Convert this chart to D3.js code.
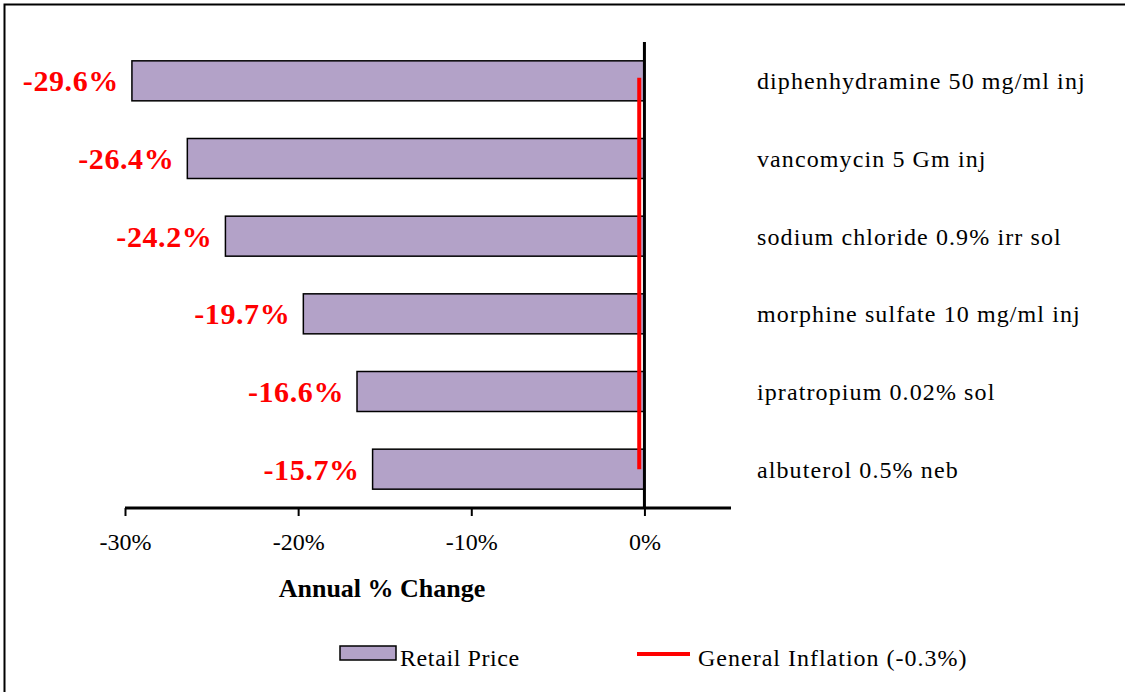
<!DOCTYPE html>
<html>
<head>
<meta charset="utf-8">
<script src="https://cdn.jsdelivr.net/npm/d3@7"></script>
<style>
  body { margin: 0; background: #fff; }
  text { font-family: "Liberation Serif", "Times New Roman", serif; }
</style>
</head>
<body>
<script>

// DATA
// =============================================================================

const drugs = [
  "diphenhydramine 50 mg/ml inj",
  "vancomycin 5 Gm inj",
  "sodium chloride 0.9% irr sol",
  "morphine sulfate 10 mg/ml inj",
  "ipratropium 0.02% sol",
  "albuterol 0.5% neb"
];
const retailChange = [-29.6, -26.4, -24.2, -19.7, -16.6, -15.7];
const inflation = -0.3;
const xTicks = [-30, -20, -10, 0];

// CONFIG VARS
// =============================================================================

const width = 1125;
const height = 692;
const plot = { left: 125, right: 731, top: 42, bottom: 508 };
const barFill = "#b3a2c8";

// SCALES
// =============================================================================

const xScale = d3.scaleLinear()
    .domain([-30, 5])
    .range([plot.left, plot.right]);

const yScale = d3.scaleBand()
    .domain(drugs)
    .range([plot.top, plot.bottom])
    .paddingInner(0.485)
    .paddingOuter(0.2425);

// INITIALIZE THE SVG
// =============================================================================

const svg = d3.select("body")
    .append("svg")
    .attr("width", width)
    .attr("height", height);

// outer frame, only the top and left edges are in view
svg.append("rect")
    .attr("x", 4.5)
    .attr("y", 4.5)
    .attr("width", width + 20)
    .attr("height", height + 20)
    .attr("fill", "none")
    .attr("stroke", "#000")
    .attr("stroke-width", 2);

// BARS
// =============================================================================

svg.selectAll("rect.bar")
    .data(drugs)
    .enter()
    .append("rect")
    .attr("class", "bar")
    .attr("x", (d, i) => xScale(retailChange[i]))
    .attr("y", d => yScale(d))
    .attr("width", (d, i) => xScale(0) - xScale(retailChange[i]))
    .attr("height", yScale.bandwidth())
    .attr("fill", barFill)
    .attr("stroke", "#000")
    .attr("stroke-width", 1.5);

// value labels on the left of each bar
svg.selectAll("text.value")
    .data(drugs)
    .enter()
    .append("text")
    .attr("class", "value")
    .attr("x", (d, i) => xScale(retailChange[i]) - 13)
    .attr("y", d => yScale(d) + yScale.bandwidth() / 2)
    .attr("dy", "0.35em")
    .attr("text-anchor", "end")
    .attr("fill", "#ff0000")
    .attr("font-size", 30)
    .attr("font-weight", "bold")
    .attr("letter-spacing", 0.6)
    .text((d, i) => retailChange[i].toFixed(1) + "%");

// drug names on the right
svg.selectAll("text.name")
    .data(drugs)
    .enter()
    .append("text")
    .attr("class", "name")
    .attr("x", 757)
    .attr("y", d => yScale(d) + yScale.bandwidth() / 2)
    .attr("dy", "0.35em")
    .attr("font-size", 24)
    .attr("letter-spacing", 1.1)
    .attr("fill", "#000")
    .text(d => d);

// AXES
// =============================================================================

const xAxis = svg.append("g")
    .attr("transform", `translate(0,${plot.bottom})`)
    .call(d3.axisBottom(xScale)
        .tickValues(xTicks)
        .tickSize(8)
        .tickPadding(17)
        .tickFormat(d => d + "%"));

xAxis.select(".domain")
    .attr("d", `M${plot.left},0H${plot.right}`)
    .attr("stroke-width", 3);
xAxis.selectAll(".tick line").attr("stroke-width", 2);
xAxis.selectAll(".tick text")
    .attr("font-size", 24)
    .attr("font-family", "Liberation Serif")
    .attr("fill", "#000");

// zero line
svg.append("line")
    .attr("x1", xScale(0))
    .attr("x2", xScale(0))
    .attr("y1", plot.top)
    .attr("y2", plot.bottom)
    .attr("stroke", "#000")
    .attr("stroke-width", 3);

// general inflation line
svg.append("line")
    .attr("x1", xScale(inflation))
    .attr("x2", xScale(inflation))
    .attr("y1", yScale(drugs[0]) + yScale.bandwidth() / 2 - 3)
    .attr("y2", yScale(drugs[drugs.length - 1]) + yScale.bandwidth() / 2)
    .attr("stroke", "#ff0000")
    .attr("stroke-width", 4);

svg.append("text")
    .attr("x", 382)
    .attr("y", 597)
    .attr("text-anchor", "middle")
    .attr("font-size", 26)
    .attr("font-weight", "bold")
    .text("Annual % Change");

// LEGEND
// =============================================================================

const legend = svg.append("g");

legend.append("rect")
    .attr("x", 340)
    .attr("y", 646)
    .attr("width", 56)
    .attr("height", 14)
    .attr("fill", barFill)
    .attr("stroke", "#000")
    .attr("stroke-width", 1.5);

legend.append("text")
    .attr("x", 400)
    .attr("y", 666)
    .attr("font-size", 24)
    .attr("letter-spacing", 0.6)
    .text("Retail Price");

legend.append("line")
    .attr("x1", 637)
    .attr("x2", 690)
    .attr("y1", 654)
    .attr("y2", 654)
    .attr("stroke", "#ff0000")
    .attr("stroke-width", 4);

legend.append("text")
    .attr("x", 698)
    .attr("y", 666)
    .attr("font-size", 24)
    .attr("letter-spacing", 1)
    .text(`General Inflation (${inflation}%)`);

</script>
</body>
</html>
